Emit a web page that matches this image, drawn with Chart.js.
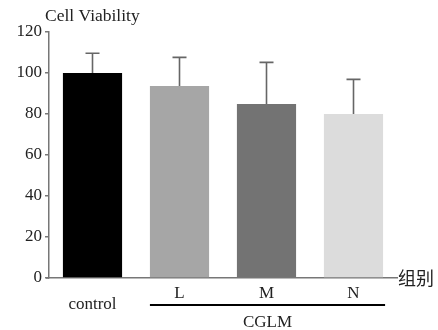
<!DOCTYPE html>
<html>
<head>
<meta charset="utf-8">
<script src="https://cdn.jsdelivr.net/npm/chart.js@4/dist/chart.umd.min.js"></script>
<style>
  html, body { margin: 0; padding: 0; background: #fff; }
  #wrap { width: 438px; height: 330px; }
</style>
</head>
<body>
<div id="wrap"><canvas id="grafico" width="438" height="330"></canvas></div>
<script>
const categorias = ['control', 'L', 'M', 'N']
const viabilidade = [100, 93.6, 84.9, 80]
const desvio = [9.6, 14.0, 20.3, 16.9]
const coresBarras = ['#000000', '#a6a6a6', '#737373', '#dcdcdc']
const yTicks = [0, 20, 40, 60, 80, 100, 120]
const tituloY = 'Cell Viability'
const tituloX = '组别'
const grupo = 'CGLM'

const serif = "'Liberation Serif', 'DejaVu Serif', serif"
const ctx = document.getElementById('grafico')

// barras de erro (só para cima) + textos extras
const extras = {
    id: 'extras',
    afterDatasetsDraw(chart) {
        const c = chart.ctx
        const y = chart.scales.y
        const meta = chart.getDatasetMeta(0)
        c.save()
        c.strokeStyle = '#666'
        c.lineWidth = 1.6
        meta.data.forEach((bar, i) => {
            const topo = y.getPixelForValue(viabilidade[i])
            const erro = y.getPixelForValue(viabilidade[i] + desvio[i])
            c.beginPath()
            c.moveTo(bar.x, topo)
            c.lineTo(bar.x, erro)
            c.moveTo(bar.x - 7, erro)
            c.lineTo(bar.x + 7, erro)
            c.stroke()
        })
        c.restore()
    },
    afterDraw(chart) {
        const c = chart.ctx
        const area = chart.chartArea
        const meta = chart.getDatasetMeta(0)
        c.save()
        c.fillStyle = '#222'
        c.font = '17.5px ' + serif
        c.textBaseline = 'middle'
        c.textAlign = 'left'
        c.fillText(tituloY, 45, 16)

        // prolonga o eixo x um pouco à esquerda
        c.strokeStyle = '#777'
        c.lineWidth = 1.5
        c.beginPath()
        c.moveTo(area.left - 3, area.bottom)
        c.lineTo(area.left, area.bottom)
        c.stroke()

        c.font = "18px 'Noto Sans CJK SC', sans-serif"
        c.fillText(tituloX, area.right + 1, area.bottom)

        // traço sob L, M, N
        const b1 = meta.data[1], b3 = meta.data[3]
        const x1 = b1.x - b1.width / 2
        const x2 = b3.x + b3.width / 2 + 2
        c.strokeStyle = '#000'
        c.lineWidth = 2
        c.beginPath()
        c.moveTo(x1, 305)
        c.lineTo(x2, 305)
        c.stroke()

        c.font = '17px ' + serif
        c.textAlign = 'center'
        c.fillText(grupo, (x1 + x2) / 2, 323)
        c.restore()
    }
}

const chart = new Chart(ctx, {
    type: 'bar',
    data: {
        labels: categorias,
        datasets: [{
            data: viabilidade,
            backgroundColor: coresBarras,
            borderWidth: 0,
            categoryPercentage: 1,
            barPercentage: 0.68
        }]
    },
    options: {
        responsive: false,
        animation: false,
        layout: { padding: { top: 32, right: 41, bottom: 0, left: 0 } },
        plugins: {
            legend: { display: false },
            tooltip: { enabled: false }
        },
        scales: {
            x: {
                afterFit: (s) => { s.height = 52 },
                grid: { display: true, drawOnChartArea: false, drawTicks: false },
                border: { color: '#777', width: 1.5 },
                ticks: {
                    padding: 10,
                    color: '#222',
                    font: { family: serif, size: 17, lineHeight: '11px' },
                    callback: function (v, i) {
                        const t = this.getLabelForValue(v)
                        return i === 0 ? ['', t] : t
                    }
                }
            },
            y: {
                min: 0,
                max: 120,
                afterFit: (s) => { s.width = 49 },
                afterBuildTicks: (s) => { s.ticks = yTicks.map(v => ({ value: v })) },
                grid: { drawOnChartArea: false, drawTicks: true, tickLength: 4, color: '#777', lineWidth: 1.5 },
                border: { color: '#777', width: 1.5 },
                ticks: {
                    padding: 3,
                    color: '#222',
                    font: { family: serif, size: 17 }
                }
            }
        }
    },
    plugins: [extras]
})
</script>
</body>
</html>
